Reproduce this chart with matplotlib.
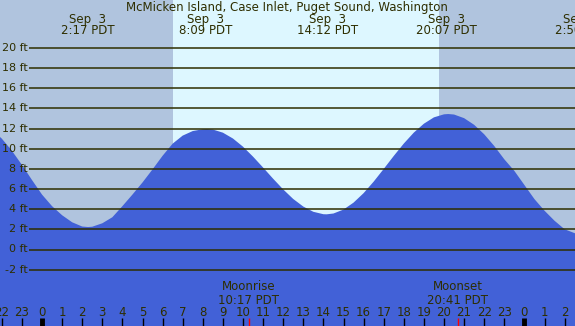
import matplotlib
matplotlib.use("Agg")
import matplotlib.pyplot as plt

# ---- data ----
title = "McMicken Island, Case Inlet, Puget Sound, Washington"
hours = [-2.5, -2.0, -1.5, -1.0, -0.5, 0.0, 0.5, 1.0, 1.5, 2.0, 2.29, 2.5,
         3.0, 3.5, 4.0, 4.5, 5.0, 5.5, 6.0, 6.5, 7.0, 7.5, 8.0, 8.21, 8.5,
         9.0, 9.5, 10.0, 10.5, 11.0, 11.5, 12.0, 12.5, 13.0, 13.5, 14.0, 14.16, 14.5,
         15.0, 15.5, 16.0, 16.5, 17.0, 17.5, 18.0, 18.5, 19.0, 19.5, 20.0, 20.21, 20.5,
         21.0, 21.5, 22.0, 22.5, 23.0, 23.5, 24.0, 24.5, 25.0, 25.5, 26.0, 26.5, 27.0]
heights = [11.9, 11.0, 9.8, 8.4, 6.9, 5.45, 4.3, 3.4, 2.7, 2.28, 2.23, 2.26,
           2.6, 3.2, 4.3, 5.45, 6.65, 7.95, 9.3, 10.5, 11.3, 11.75, 11.93, 11.95, 11.9,
           11.59, 11.01, 10.2, 9.21, 8.13, 7.02, 5.96, 5.01, 4.26, 3.74, 3.5, 3.49, 3.57,
           3.96, 4.65, 5.59, 6.73, 7.99, 9.28, 10.51, 11.6, 12.48, 13.11, 13.41, 13.44, 13.39,
           13.03, 12.37, 11.43, 10.27, 8.95, 7.8, 6.4, 5.0, 3.85, 2.85, 2.01, 1.62, 1.56]

extreme_hours = [2.283, 8.15, 14.2, 20.117, 26.833]
extreme_labels = ["2:17 PDT", "8:09 PDT", "14:12 PDT", "20:07 PDT", "2:50 PDT"]
sunrise, sunset = 6.52, 19.75
moon_events = [("Moonrise", "10:17 PDT", 10.283), ("Moonset", "20:41 PDT", 20.683)]
ft_levels = [-2, 0, 2, 4, 6, 8, 10, 12, 14, 16, 18, 20]
hour_ticks = list(range(-2, 27))

# ---- style ----
night = "#b0c4de"
day = "#ddf7ff"
water = "#4261d7"
ink = "#2e2e00"
fs = 8.5

px_per_hr = 20.1
px_per_ft = 10.08
x0_px = 42.0     # pixel of hour 0
y0_px = 249.5    # pixel of 0 ft
W, H = 575, 326

def hx(px):
    return (px - x0_px) / px_per_hr

def fy(py):
    return (y0_px - py) / px_per_ft

fig = plt.figure(figsize=(W / 100, H / 100), dpi=100)
ax = fig.add_axes([0, 0, 1, 1])
ax.set_xlim(hx(0), hx(W))
ax.set_ylim(fy(H), fy(0))
ax.axis("off")

ax.axvspan(hx(-10), sunrise, color=night, lw=0, zorder=0)
ax.axvspan(sunrise, sunset, color=day, lw=0, zorder=0)
ax.axvspan(sunset, hx(W + 10), color=night, lw=0, zorder=0)

ax.fill_between(hours, heights, fy(H + 20), color=water, lw=0, zorder=1)

ax.hlines(ft_levels, hx(29), hx(W + 5), colors=ink, lw=1.1, zorder=2)
for lv in ft_levels:
    ax.text(hx(27.5), lv, f"{lv} ft", ha="right", va="center",
            fontsize=8, color=ink, zorder=3)

ax.text(hx(287), fy(7), title, ha="center", va="center", fontsize=fs, color=ink)
for h, lab in zip(extreme_hours, extreme_labels):
    ax.text(h, fy(19), "Sep  3", ha="center", va="center", fontsize=fs, color=ink)
    ax.text(h, fy(31), lab, ha="center", va="center", fontsize=fs, color=ink)

for name, t, h in moon_events:
    ax.text(h, fy(287), name, ha="center", va="center", fontsize=fs, color=ink)
    ax.text(h, fy(300), t, ha="center", va="center", fontsize=fs, color=ink)
    ax.vlines(h, fy(318), fy(H + 2), colors="red", lw=1, zorder=4)

for h in hour_ticks:
    lab = str(h % 24)
    ax.text(h, fy(312), lab, ha="center", va="center", fontsize=fs, color=ink)
    lw = 3.5 if h % 24 == 0 else 1
    ax.vlines(h, fy(318), fy(H + 2), colors="black", lw=lw, zorder=4)

fig.savefig("out.png", dpi=100)
